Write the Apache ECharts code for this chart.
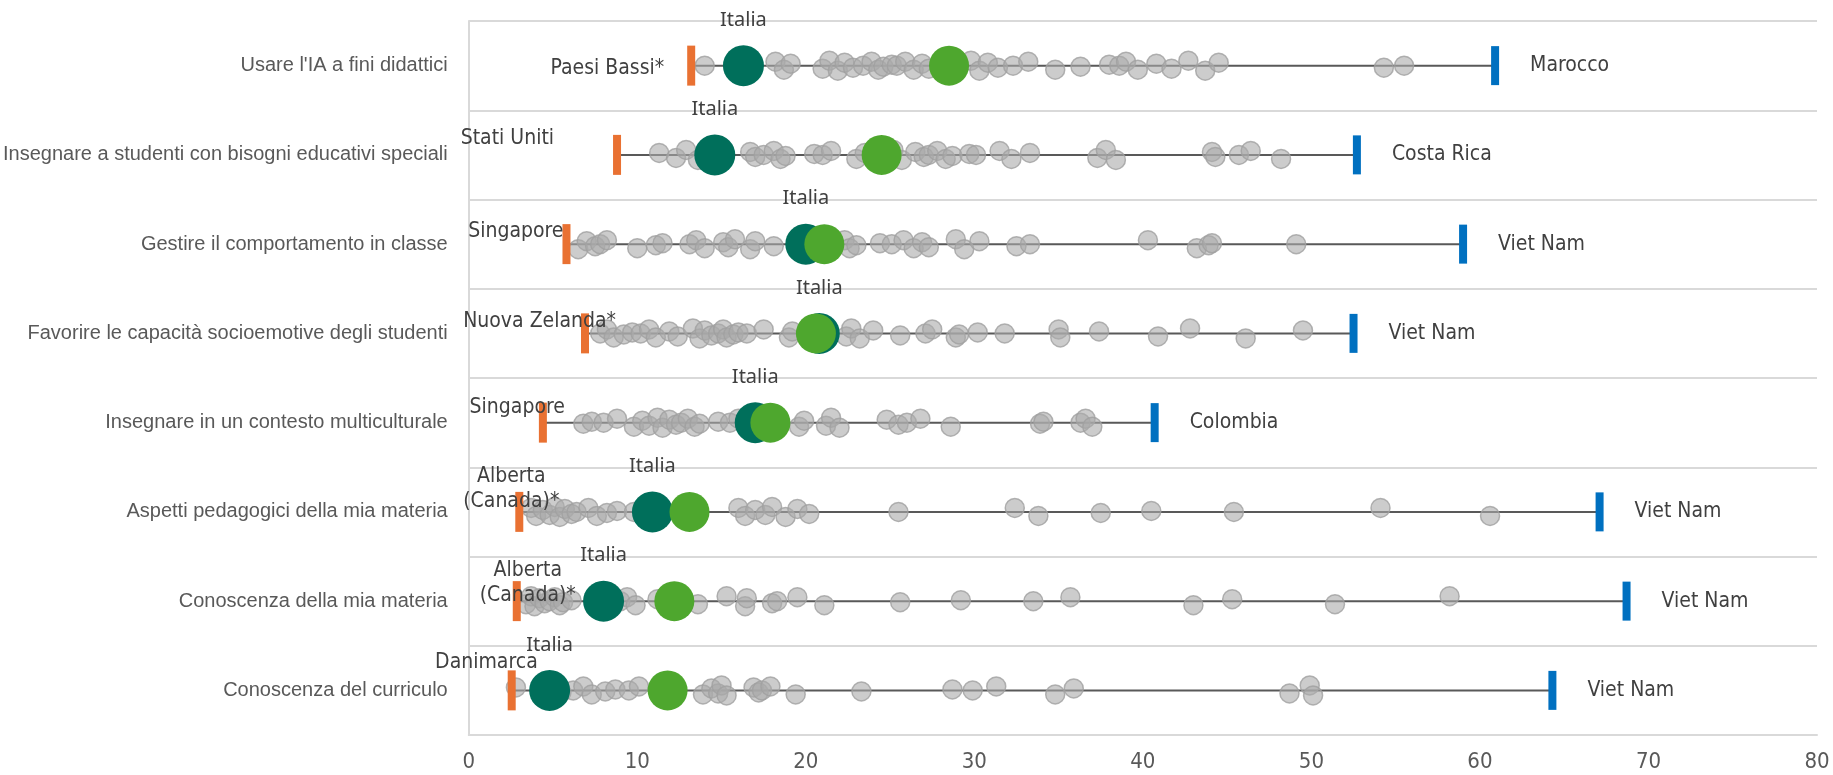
<!DOCTYPE html>
<html>
<head>
<meta charset="utf-8">
<script src="https://cdn.jsdelivr.net/npm/echarts@6/dist/echarts.min.js"></script>
<style>
  html, body { margin: 0; padding: 0; background: #fff; }
  #chart { width: 1833px; height: 775px; }
</style>
</head>
<body>
<div id="chart"></div>
<script>
// categories, top to bottom
const categories = [
  "Usare l'IA a fini didattici",
  'Insegnare a studenti con bisogni educativi speciali',
  'Gestire il comportamento in classe',
  'Favorire le capacità socioemotive degli studenti',
  'Insegnare in un contesto multiculturale',
  'Aspetti pedagogici della mia materia',
  'Conoscenza della mia materia',
  'Conoscenza del curriculo'
];

// lowest and highest system for each row
const minVal = [13.2, 8.8, 5.8, 6.9, 4.4, 3.0, 2.85, 2.55];
const minName = ['Paesi Bassi*', 'Stati Uniti', 'Singapore', 'Nuova Zelanda*', 'Singapore',
  'Alberta\n(Canada)*', 'Alberta\n(Canada)*', 'Danimarca'];
const maxVal = [60.9, 52.7, 59.0, 52.5, 40.7, 67.1, 68.7, 64.3];
const maxName = ['Marocco', 'Costa Rica', 'Viet Nam', 'Viet Nam', 'Colombia', 'Viet Nam', 'Viet Nam', 'Viet Nam'];

// Italia and average
const italia = [16.3, 14.6, 20.0, 20.8, 17.0, 10.9, 8.0, 4.8];
const media = [28.5, 24.5, 21.1, 20.6, 17.9, 13.1, 12.2, 11.8];

// the other systems, one list per row
const usareIA = [14.0, 18.2, 18.7, 19.1, 21.0, 21.4, 21.9, 22.3, 22.8, 23.4, 23.9, 24.3, 24.6, 25.1, 25.4,
  25.9, 26.4, 26.9, 27.3, 29.8, 30.3, 30.8, 31.4, 32.3, 33.2, 34.8, 36.3, 38.0, 38.6, 39.0, 39.7, 40.8,
  41.7, 42.7, 43.7, 44.5, 54.3, 55.5];
const bisogniSpeciali = [11.3, 12.3, 12.9, 13.6, 16.7, 17.0, 17.5, 18.1, 18.5, 18.8, 20.5, 21.0, 21.5, 23.0,
  23.5, 24.0, 25.2, 25.7, 26.5, 27.0, 27.3, 27.8, 28.3, 28.7, 29.7, 30.1, 31.5, 32.2, 33.3, 37.3, 37.8,
  38.4, 44.1, 44.3, 45.7, 46.4, 48.2];
const comportamento = [6.5, 7.0, 7.5, 7.8, 8.2, 10.0, 11.1, 11.5, 13.1, 13.5, 14.0, 15.1, 15.4, 15.8, 16.7,
  17.0, 18.1, 19.5, 22.3, 22.6, 23.0, 24.4, 25.1, 25.8, 26.4, 26.9, 27.3, 28.9, 29.4, 30.3, 32.5, 33.3,
  40.3, 43.2, 43.9, 44.1, 49.1];
const socioemotive = [7.8, 8.2, 8.6, 9.2, 9.7, 10.2, 10.7, 11.1, 11.9, 12.4, 13.3, 13.7, 14.0, 14.4, 14.8,
  15.1, 15.3, 15.7, 16.0, 16.5, 17.5, 19.0, 19.2, 22.4, 22.7, 23.2, 24.0, 25.6, 27.1, 27.5, 28.9, 29.1,
  30.2, 31.8, 35.0, 35.1, 37.4, 40.9, 42.8, 46.1, 49.5];
const multiculturale = [6.8, 7.3, 8.0, 8.8, 9.8, 10.3, 10.7, 11.2, 11.5, 11.9, 12.3, 12.6, 13.0, 13.4, 13.7,
  14.8, 15.5, 16.0, 19.6, 19.9, 21.2, 21.5, 22.0, 24.8, 25.5, 26.0, 26.8, 28.6, 33.9, 34.1, 36.3, 36.6, 37.0];
const pedagogici = [3.7, 4.0, 4.4, 4.8, 5.1, 5.4, 5.7, 6.1, 6.4, 7.1, 7.6, 8.2, 8.8, 9.8, 16.0, 16.4, 17.0,
  17.6, 18.0, 18.8, 19.5, 20.2, 25.5, 32.4, 33.8, 37.5, 40.5, 45.4, 54.1, 60.6];
const materia = [3.4, 3.7, 3.9, 4.2, 4.5, 4.8, 5.1, 5.4, 5.6, 6.1, 9.0, 9.4, 9.9, 11.2, 13.6, 15.3, 16.4,
  16.5, 18.0, 18.3, 19.5, 21.1, 25.6, 29.2, 33.5, 35.7, 43.0, 45.3, 51.4, 58.2];
const curriculo = [2.8, 5.5, 6.2, 6.8, 7.3, 8.1, 8.7, 9.5, 10.1, 13.9, 14.4, 14.8, 15.0, 15.3, 16.9, 17.2,
  17.4, 17.9, 19.4, 23.3, 28.7, 29.9, 31.3, 34.8, 35.9, 48.7, 49.9, 50.1];

const xTicks = [0, 10, 20, 30, 40, 50, 60, 70, 80];

const countryRows = [usareIA, bisogniSpeciali, comportamento, socioemotive, multiculturale, pedagogici, materia, curriculo];

// styling bits
const narrow = "'Liberation Sans Narrow', 'DejaVu Sans Condensed', sans-serif";
const jitter = [0, -4, 4, -2, 3, -5, 5, -3, 2, 0, -4, 4, 1, -1];
// where each lowest-system label sits, relative to the orange bar centre
const minLabelPos = [
  { align: 'right', offset: [-27, 3] },
  { align: 'right', offset: [-63, -16] },
  { align: 'right', offset: [-3, -13] },
  { align: 'right', offset: [31, -12] },
  { align: 'right', offset: [22, -15] },
  { align: 'center', offset: [-8, -23] },
  { align: 'center', offset: [11, -18] },
  { align: 'right', offset: [26, -28] }
];

const grayData = [];
countryRows.forEach((row, r) => {
  row.forEach((v, i) => {
    grayData.push({ value: [v, r], symbolOffset: [0, jitter[(i + r * 3) % jitter.length]] });
  });
});

const chart = echarts.init(document.getElementById('chart'));

chart.setOption({
  animation: false,
  grid: { left: 466, right: 16, top: 21, bottom: 40, containLabel: false },
  xAxis: {
    type: 'value',
    min: xTicks[0],
    max: xTicks[xTicks.length - 1],
    interval: 10,
    axisLine: { show: true, lineStyle: { color: '#D9D9D9', width: 2 } },
    axisTick: { show: false },
    splitLine: { show: false },
    axisLabel: { color: '#595959', fontFamily: narrow, fontSize: 22, margin: 16 }
  },
  yAxis: {
    type: 'category',
    data: categories,
    inverse: true,
    axisLine: { show: true, lineStyle: { color: '#D9D9D9', width: 2 } },
    axisTick: { show: false },
    splitLine: { show: true, lineStyle: { color: '#D9D9D9', width: 2 } },
    axisLabel: { color: '#595959', fontFamily: "'Liberation Sans', Arial, sans-serif", fontSize: 20, margin: 21 }
  },
  series: [
    {
      // range line from lowest to highest
      type: 'custom',
      z: 1,
      renderItem: (params, api) => {
        const s = api.coord([api.value(0), api.value(2)]);
        const e = api.coord([api.value(1), api.value(2)]);
        return {
          type: 'line',
          shape: { x1: s[0], y1: s[1], x2: e[0], y2: e[1] },
          style: { stroke: '#595959', lineWidth: 2 }
        };
      },
      encode: { x: [0, 1], y: 2 },
      data: minVal.map((v, i) => [v, maxVal[i], i])
    },
    {
      name: 'Paesi',
      type: 'scatter',
      z: 2,
      symbolSize: 19,
      itemStyle: { color: 'rgba(170,170,170,0.75)', borderColor: '#A0A0A0', borderWidth: 1.5 },
      data: grayData
    },
    {
      name: 'Italia',
      type: 'scatter',
      z: 3,
      symbolSize: 41,
      itemStyle: { color: '#006F5B', opacity: 1 },
      label: {
        show: true,
        position: 'top',
        distance: 15,
        formatter: 'Italia',
        color: '#404040',
        fontFamily: "'Noto Sans', sans-serif",
        fontSize: 20
      },
      data: italia.map((v, i) => [v, i])
    },
    {
      name: 'Media',
      type: 'scatter',
      z: 4,
      symbolSize: 40,
      itemStyle: { color: '#4EA72E', opacity: 1 },
      data: media.map((v, i) => [v, i])
    },
    {
      name: 'Min',
      type: 'scatter',
      z: 5,
      symbol: 'rect',
      symbolSize: [8, 40],
      itemStyle: { color: '#E97132', opacity: 1 },
      label: {
        show: true,
        position: 'inside',
        verticalAlign: 'middle',
        color: '#404040',
        fontFamily: narrow,
        fontSize: 21,
        lineHeight: 25,
        formatter: p => minName[p.dataIndex]
      },
      data: minVal.map((v, i) => ({
        value: [v, i],
        label: { align: minLabelPos[i].align, offset: minLabelPos[i].offset }
      }))
    },
    {
      name: 'Max',
      type: 'scatter',
      z: 5,
      symbol: 'rect',
      symbolSize: [8, 39],
      itemStyle: { color: '#0070C0', opacity: 1 },
      label: {
        show: true,
        position: 'right',
        distance: 31,
        color: '#404040',
        fontFamily: narrow,
        fontSize: 21,
        formatter: p => maxName[p.dataIndex]
      },
      data: maxVal.map((v, i) => [v, i])
    }
  ]
});
</script>
</body>
</html>
